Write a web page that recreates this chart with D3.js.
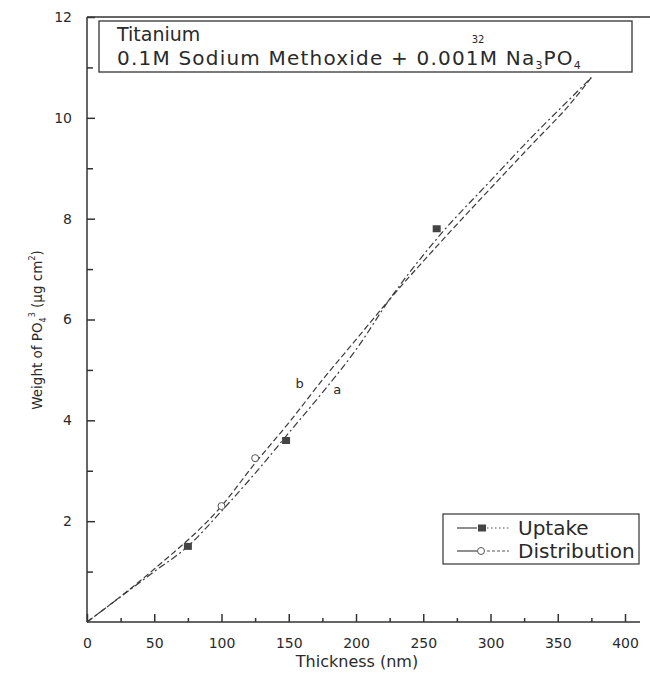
<!DOCTYPE html>
<html>
<head>
<meta charset="utf-8">
<script src="https://cdn.jsdelivr.net/npm/d3@7"></script>
<style>
  body { margin: 0; background: #fff; }
  text { font-family: "DejaVu Sans", sans-serif; fill: #2a2a2a; }
</style>
</head>
<body>
<div id="chart"></div>
<script>
// Measured points
const uptakePoints = [[75, 1.5], [148, 3.6], [260, 7.8]];
const distributionPoints = [[100, 2.3], [125, 3.25]];

// Fitted curves (a = uptake, b = distribution)
const uptakeFit = [[0, 0], [50, 1.0], [75, 1.5], [100, 2.2], [125, 2.95], [150, 3.75], [175, 4.55],
  [200, 5.4], [225, 6.4], [260, 7.6], [300, 8.75], [330, 9.6], [360, 10.4], [375, 10.8]];
const distributionFit = [[0, 0], [50, 1.05], [100, 2.3], [125, 3.15], [150, 3.95], [175, 4.8],
  [200, 5.6], [225, 6.4], [260, 7.45], [300, 8.6], [330, 9.45], [360, 10.3], [375, 10.8]];

const curveLabels = [{ name: "b", x: 158, y: 4.74 }, { name: "a", x: 186, y: 4.62 }];

const xTicks = [0, 50, 100, 150, 200, 250, 300, 350, 400];
const xMinor = [25, 75, 125, 175, 225, 275, 325, 375];
const yTicks = [2, 4, 6, 8, 10, 12];
const yMinor = [1, 3, 5, 7, 9, 11];

const width = 650, height = 673;
const ink = "#333";

const svg = d3.select("#chart").append("svg")
  .attr("width", width)
  .attr("height", height);

const x = d3.scaleLinear().domain([0, 400]).range([87, 625]);
const y = d3.scaleLinear().domain([0, 12]).range([622, 17]);

// frame: top line and axes
svg.append("line")
  .attr("x1", x(0)).attr("x2", 650)
  .attr("y1", y(12)).attr("y2", y(12))
  .attr("stroke", ink).attr("stroke-width", 1.5);

const xAxis = svg.append("g")
  .attr("transform", `translate(0,${y(0)})`)
  .call(d3.axisBottom(x).tickValues(xTicks).tickSize(-8).tickPadding(16));
xAxis.select(".domain").attr("d", `M${x(0)},0H640`);

svg.append("g")
  .attr("transform", `translate(0,${y(0)})`)
  .call(d3.axisBottom(x).tickValues(xMinor).tickSize(-4).tickFormat(""))
  .select(".domain").remove();

const yAxis = svg.append("g")
  .attr("transform", `translate(${x(0)},0)`)
  .call(d3.axisLeft(y).tickValues(yTicks).tickSize(-8).tickPadding(15));
yAxis.select(".domain").attr("d", `M0,${y(0)}V${y(12)}`);

svg.append("g")
  .attr("transform", `translate(${x(0)},0)`)
  .call(d3.axisLeft(y).tickValues(yMinor).tickSize(-6).tickFormat(""))
  .select(".domain").remove();

svg.selectAll(".domain, .tick line")
  .attr("stroke", ink).attr("stroke-width", 1.5);
svg.selectAll(".tick text")
  .style("font-size", "14px")
  .style("font-family", "DejaVu Sans, sans-serif")
  .attr("fill", "#2a2a2a");

// axis titles
svg.append("text")
  .attr("x", 357).attr("y", 667)
  .attr("text-anchor", "middle")
  .style("font-size", "16px")
  .text("Thickness (nm)");

const yTitle = svg.append("text")
  .attr("transform", "translate(42,330) rotate(-90)")
  .attr("text-anchor", "middle")
  .style("font-size", "13.5px");
yTitle.append("tspan").text("Weight of PO");
yTitle.append("tspan").attr("dy", 4).style("font-size", "8px").text("4");
yTitle.append("tspan").attr("dy", -11).style("font-size", "8px").text("3");
yTitle.append("tspan").attr("dy", 7).text(" (\u03bcg cm");
yTitle.append("tspan").attr("dy", -7).style("font-size", "8px").text("2");
yTitle.append("tspan").attr("dy", 7).text(")");

// fitted curves
const line = d3.line()
  .x(d => x(d[0]))
  .y(d => y(d[1]))
  .curve(d3.curveMonotoneX);

svg.append("path")
  .datum(uptakeFit)
  .attr("d", line)
  .attr("fill", "none")
  .attr("stroke", "#3a3a3a")
  .attr("stroke-width", 1.2)
  .attr("stroke-dasharray", "7,3,2,3");

svg.append("path")
  .datum(distributionFit)
  .attr("d", line)
  .attr("fill", "none")
  .attr("stroke", "#3a3a3a")
  .attr("stroke-width", 1.2)
  .attr("stroke-dasharray", "6,3");

svg.selectAll(".clabel")
  .data(curveLabels)
  .enter()
  .append("text")
  .attr("class", "clabel")
  .attr("x", d => x(d.x))
  .attr("y", d => y(d.y))
  .attr("text-anchor", "middle")
  .attr("dy", "0.35em")
  .style("font-size", "13px")
  .text(d => d.name);

// markers
svg.selectAll(".up")
  .data(uptakePoints)
  .enter()
  .append("rect")
  .attr("class", "up")
  .attr("x", d => x(d[0]) - 4)
  .attr("y", d => y(d[1]) - 3.5)
  .attr("width", 8).attr("height", 7)
  .attr("fill", "#444");

svg.selectAll(".dist")
  .data(distributionPoints)
  .enter()
  .append("circle")
  .attr("class", "dist")
  .attr("cx", d => x(d[0]))
  .attr("cy", d => y(d[1]))
  .attr("r", 3.5)
  .attr("fill", "#fff")
  .attr("stroke", "#555");

// title box
svg.append("rect")
  .attr("x", 99).attr("y", 21)
  .attr("width", 533).attr("height", 51)
  .attr("fill", "#fff")
  .attr("stroke", ink).attr("stroke-width", 1.3);

svg.append("text")
  .attr("x", 117).attr("y", 41)
  .style("font-size", "19px")
  .text("Titanium");

const t2 = svg.append("text")
  .attr("x", 117).attr("y", 65)
  .style("font-size", "20px")
  .style("letter-spacing", "1.2px");
t2.append("tspan").text("0.1M Sodium Methoxide + 0.001M Na");
t2.append("tspan").attr("dy", 4).style("font-size", "11px").text("3");
t2.append("tspan").attr("dy", -4).text("PO");
t2.append("tspan").attr("dy", 4).style("font-size", "11px").text("4");

// "32" sits just above the 1M of 0.001M
const mIndex = "0.1M Sodium Methoxide + 0.001".length;
const mPos = t2.node().getStartPositionOfChar(mIndex).x;
svg.append("text")
  .attr("x", mPos - 8).attr("y", 43)
  .style("font-size", "10px")
  .text("32");

// legend
svg.append("rect")
  .attr("x", 443).attr("y", 514)
  .attr("width", 196).attr("height", 50)
  .attr("fill", "#fff")
  .attr("stroke", ink).attr("stroke-width", 1.2);

const legendItems = ["Uptake", "Distribution"];
const lg = svg.selectAll(".lg")
  .data(legendItems)
  .enter()
  .append("g")
  .attr("class", "lg")
  .attr("transform", (d, i) => `translate(0,${528 + i * 23})`);

lg.append("line")
  .attr("x1", 457).attr("x2", 477)
  .attr("stroke", "#444").attr("stroke-width", 1.2);
lg.append("line")
  .attr("x1", 487).attr("x2", 509)
  .attr("stroke", "#555").attr("stroke-width", 1.1)
  .attr("stroke-dasharray", (d, i) => i === 0 ? "1.5,2.5" : "3,2");

lg.filter((d, i) => i === 0).append("rect")
  .attr("x", 478).attr("y", -3.5)
  .attr("width", 8).attr("height", 7)
  .attr("fill", "#444");
lg.filter((d, i) => i === 1).append("circle")
  .attr("cx", 481).attr("cy", 0).attr("r", 3.5)
  .attr("fill", "#fff").attr("stroke", "#555");

lg.append("text")
  .attr("x", 518).attr("dy", "0.35em")
  .style("font-size", "20px")
  .text(d => d);
</script>
</body>
</html>
